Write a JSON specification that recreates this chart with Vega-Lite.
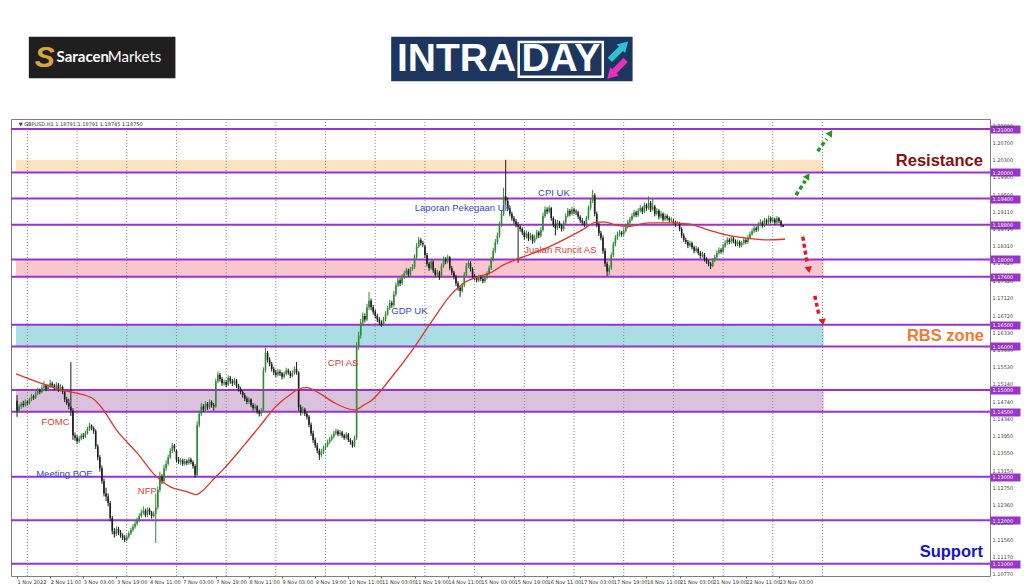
{
"$schema": "https://vega.github.io/schema/vega-lite/v6.json",
"width": 979, "height": 457,
"autosize": {"type": "none"},
"padding": {"left": 11, "top": 119, "right": 34, "bottom": 11},
"background": "white",
"config": {"view": {"stroke": "#7f7f7f", "strokeWidth": 1}},
"resolve": {"scale": {"color": "independent"}},
"datasets": {
"bars": [
{"i":0,"o":1.1475,"h":1.1488,"l":1.1438,"c":1.1452},{"i":1,"o":1.1452,"h":1.1467,"l":1.1447,"c":1.1462},{"i":2,"o":1.1462,"h":1.1472,"l":1.1456,"c":1.1468},{"i":3,"o":1.1468,"h":1.1475,"l":1.1460,"c":1.1465},{"i":4,"o":1.1465,"h":1.1478,"l":1.1461,"c":1.1472},
{"i":5,"o":1.1472,"h":1.1476,"l":1.1464,"c":1.1470},{"i":6,"o":1.1470,"h":1.1482,"l":1.1466,"c":1.1478},{"i":7,"o":1.1478,"h":1.1491,"l":1.1474,"c":1.1485},{"i":8,"o":1.1485,"h":1.1489,"l":1.1477,"c":1.1482},{"i":9,"o":1.1482,"h":1.1497,"l":1.1479,"c":1.1492},
{"i":10,"o":1.1492,"h":1.1505,"l":1.1488,"c":1.1498},{"i":11,"o":1.1498,"h":1.1503,"l":1.1490,"c":1.1495},{"i":12,"o":1.1495,"h":1.1512,"l":1.1492,"c":1.1505},{"i":13,"o":1.1505,"h":1.1520,"l":1.1500,"c":1.1510},{"i":14,"o":1.1510,"h":1.1514,"l":1.1497,"c":1.1502},
{"i":15,"o":1.1502,"h":1.1513,"l":1.1498,"c":1.1508},{"i":16,"o":1.1508,"h":1.1523,"l":1.1504,"c":1.1515},{"i":17,"o":1.1515,"h":1.1519,"l":1.1505,"c":1.1510},{"i":18,"o":1.1510,"h":1.1514,"l":1.1499,"c":1.1505},{"i":19,"o":1.1505,"h":1.1518,"l":1.1501,"c":1.1512},
{"i":20,"o":1.1512,"h":1.1516,"l":1.1495,"c":1.1500},{"i":21,"o":1.1500,"h":1.1513,"l":1.1496,"c":1.1507},{"i":22,"o":1.1507,"h":1.1510,"l":1.1490,"c":1.1495},{"i":23,"o":1.1495,"h":1.1499,"l":1.1472,"c":1.1478},{"i":24,"o":1.1478,"h":1.1484,"l":1.1465,"c":1.1470},
{"i":25,"o":1.1470,"h":1.1480,"l":1.1455,"c":1.1462},{"i":26,"o":1.1462,"h":1.1564,"l":1.1440,"c":1.1452},{"i":27,"o":1.1452,"h":1.1458,"l":1.1385,"c":1.1395},{"i":28,"o":1.1395,"h":1.1402,"l":1.1383,"c":1.1390},{"i":29,"o":1.1390,"h":1.1396,"l":1.1376,"c":1.1382},
{"i":30,"o":1.1382,"h":1.1394,"l":1.1378,"c":1.1388},{"i":31,"o":1.1388,"h":1.1400,"l":1.1384,"c":1.1395},{"i":32,"o":1.1395,"h":1.1401,"l":1.1387,"c":1.1392},{"i":33,"o":1.1392,"h":1.1406,"l":1.1389,"c":1.1400},{"i":34,"o":1.1400,"h":1.1415,"l":1.1397,"c":1.1410},
{"i":35,"o":1.1410,"h":1.1424,"l":1.1406,"c":1.1418},{"i":36,"o":1.1418,"h":1.1421,"l":1.1407,"c":1.1412},{"i":37,"o":1.1412,"h":1.1416,"l":1.1399,"c":1.1405},{"i":38,"o":1.1405,"h":1.1409,"l":1.1364,"c":1.1370},{"i":39,"o":1.1370,"h":1.1375,"l":1.1338,"c":1.1345},
{"i":40,"o":1.1345,"h":1.1350,"l":1.1312,"c":1.1320},{"i":41,"o":1.1320,"h":1.1326,"l":1.1284,"c":1.1290},{"i":42,"o":1.1290,"h":1.1296,"l":1.1255,"c":1.1262},{"i":43,"o":1.1262,"h":1.1275,"l":1.1244,"c":1.1255},{"i":44,"o":1.1255,"h":1.1262,"l":1.1232,"c":1.1240},
{"i":45,"o":1.1240,"h":1.1245,"l":1.1198,"c":1.1205},{"i":46,"o":1.1205,"h":1.1210,"l":1.1168,"c":1.1175},{"i":47,"o":1.1175,"h":1.1182,"l":1.1160,"c":1.1168},{"i":48,"o":1.1168,"h":1.1186,"l":1.1164,"c":1.1180},{"i":49,"o":1.1180,"h":1.1185,"l":1.1166,"c":1.1172},
{"i":50,"o":1.1172,"h":1.1178,"l":1.1160,"c":1.1165},{"i":51,"o":1.1165,"h":1.1170,"l":1.1155,"c":1.1160},{"i":52,"o":1.1160,"h":1.1166,"l":1.1150,"c":1.1155},{"i":53,"o":1.1155,"h":1.1168,"l":1.1152,"c":1.1162},{"i":54,"o":1.1162,"h":1.1175,"l":1.1158,"c":1.1170},
{"i":55,"o":1.1170,"h":1.1183,"l":1.1166,"c":1.1178},{"i":56,"o":1.1178,"h":1.1191,"l":1.1174,"c":1.1185},{"i":57,"o":1.1185,"h":1.1198,"l":1.1181,"c":1.1192},{"i":58,"o":1.1192,"h":1.1206,"l":1.1188,"c":1.1200},{"i":59,"o":1.1200,"h":1.1216,"l":1.1196,"c":1.1210},
{"i":60,"o":1.1210,"h":1.1225,"l":1.1206,"c":1.1218},{"i":61,"o":1.1218,"h":1.1232,"l":1.1213,"c":1.1222},{"i":62,"o":1.1222,"h":1.1227,"l":1.1207,"c":1.1212},{"i":63,"o":1.1212,"h":1.1230,"l":1.1208,"c":1.1225},{"i":64,"o":1.1225,"h":1.1229,"l":1.1212,"c":1.1218},
{"i":65,"o":1.1218,"h":1.1222,"l":1.1204,"c":1.1210},{"i":66,"o":1.1210,"h":1.1221,"l":1.1206,"c":1.1215},{"i":67,"o":1.1215,"h":1.1262,"l":1.1148,"c":1.1230},{"i":68,"o":1.1230,"h":1.1278,"l":1.1225,"c":1.1270},{"i":69,"o":1.1270,"h":1.1312,"l":1.1264,"c":1.1300},
{"i":70,"o":1.1300,"h":1.1306,"l":1.1283,"c":1.1290},{"i":71,"o":1.1290,"h":1.1328,"l":1.1286,"c":1.1320},{"i":72,"o":1.1320,"h":1.1338,"l":1.1314,"c":1.1330},{"i":73,"o":1.1330,"h":1.1351,"l":1.1326,"c":1.1345},{"i":74,"o":1.1345,"h":1.1366,"l":1.1341,"c":1.1360},
{"i":75,"o":1.1360,"h":1.1378,"l":1.1355,"c":1.1372},{"i":76,"o":1.1372,"h":1.1376,"l":1.1358,"c":1.1365},{"i":77,"o":1.1360,"h":1.1363,"l":1.1333,"c":1.1340},{"i":78,"o":1.1340,"h":1.1346,"l":1.1330,"c":1.1335},{"i":79,"o":1.1335,"h":1.1343,"l":1.1328,"c":1.1338},
{"i":80,"o":1.1338,"h":1.1342,"l":1.1325,"c":1.1330},{"i":81,"o":1.1330,"h":1.1341,"l":1.1326,"c":1.1336},{"i":82,"o":1.1336,"h":1.1340,"l":1.1327,"c":1.1332},{"i":83,"o":1.1332,"h":1.1345,"l":1.1328,"c":1.1340},{"i":84,"o":1.1340,"h":1.1344,"l":1.1329,"c":1.1334},
{"i":85,"o":1.1334,"h":1.1338,"l":1.1319,"c":1.1325},{"i":86,"o":1.1325,"h":1.1329,"l":1.1298,"c":1.1305},{"i":87,"o":1.1305,"h":1.1428,"l":1.1302,"c":1.1420},{"i":88,"o":1.1420,"h":1.1452,"l":1.1414,"c":1.1445},{"i":89,"o":1.1445,"h":1.1470,"l":1.1440,"c":1.1462},
{"i":90,"o":1.1462,"h":1.1467,"l":1.1449,"c":1.1455},{"i":91,"o":1.1455,"h":1.1474,"l":1.1451,"c":1.1468},{"i":92,"o":1.1468,"h":1.1472,"l":1.1454,"c":1.1460},{"i":93,"o":1.1460,"h":1.1478,"l":1.1456,"c":1.1472},{"i":94,"o":1.1472,"h":1.1476,"l":1.1459,"c":1.1465},
{"i":95,"o":1.1465,"h":1.1470,"l":1.1452,"c":1.1462},{"i":96,"o":1.1462,"h":1.1526,"l":1.1458,"c":1.1520},{"i":97,"o":1.1520,"h":1.1542,"l":1.1515,"c":1.1535},{"i":98,"o":1.1535,"h":1.1539,"l":1.1519,"c":1.1525},{"i":99,"o":1.1525,"h":1.1530,"l":1.1509,"c":1.1515},
{"i":100,"o":1.1515,"h":1.1524,"l":1.1510,"c":1.1518},{"i":101,"o":1.1518,"h":1.1522,"l":1.1506,"c":1.1512},{"i":102,"o":1.1512,"h":1.1534,"l":1.1509,"c":1.1528},{"i":103,"o":1.1528,"h":1.1532,"l":1.1514,"c":1.1520},{"i":104,"o":1.1520,"h":1.1525,"l":1.1509,"c":1.1515},
{"i":105,"o":1.1515,"h":1.1527,"l":1.1511,"c":1.1522},{"i":106,"o":1.1522,"h":1.1525,"l":1.1504,"c":1.1510},{"i":107,"o":1.1510,"h":1.1514,"l":1.1496,"c":1.1502},{"i":108,"o":1.1502,"h":1.1507,"l":1.1490,"c":1.1495},{"i":109,"o":1.1495,"h":1.1499,"l":1.1482,"c":1.1488},
{"i":110,"o":1.1488,"h":1.1493,"l":1.1474,"c":1.1480},{"i":111,"o":1.1480,"h":1.1485,"l":1.1467,"c":1.1472},{"i":112,"o":1.1472,"h":1.1483,"l":1.1468,"c":1.1478},{"i":113,"o":1.1478,"h":1.1481,"l":1.1460,"c":1.1465},{"i":114,"o":1.1465,"h":1.1470,"l":1.1452,"c":1.1458},
{"i":115,"o":1.1458,"h":1.1468,"l":1.1454,"c":1.1462},{"i":116,"o":1.1462,"h":1.1465,"l":1.1445,"c":1.1450},{"i":117,"o":1.1450,"h":1.1455,"l":1.1439,"c":1.1445},{"i":118,"o":1.1445,"h":1.1458,"l":1.1440,"c":1.1452},{"i":119,"o":1.1452,"h":1.1552,"l":1.1449,"c":1.1545},
{"i":120,"o":1.1545,"h":1.1597,"l":1.1540,"c":1.1585},{"i":121,"o":1.1585,"h":1.1590,"l":1.1563,"c":1.1570},{"i":122,"o":1.1570,"h":1.1575,"l":1.1554,"c":1.1560},{"i":123,"o":1.1560,"h":1.1564,"l":1.1542,"c":1.1548},{"i":124,"o":1.1548,"h":1.1553,"l":1.1534,"c":1.1540},
{"i":125,"o":1.1540,"h":1.1546,"l":1.1529,"c":1.1535},{"i":126,"o":1.1535,"h":1.1548,"l":1.1531,"c":1.1542},{"i":127,"o":1.1542,"h":1.1547,"l":1.1532,"c":1.1538},{"i":128,"o":1.1538,"h":1.1541,"l":1.1524,"c":1.1530},{"i":129,"o":1.1530,"h":1.1542,"l":1.1526,"c":1.1536},
{"i":130,"o":1.1536,"h":1.1551,"l":1.1533,"c":1.1545},{"i":131,"o":1.1545,"h":1.1549,"l":1.1535,"c":1.1540},{"i":132,"o":1.1540,"h":1.1544,"l":1.1527,"c":1.1532},{"i":133,"o":1.1532,"h":1.1545,"l":1.1529,"c":1.1538},{"i":134,"o":1.1538,"h":1.1554,"l":1.1535,"c":1.1548},
{"i":135,"o":1.1548,"h":1.1564,"l":1.1535,"c":1.1540},{"i":136,"o":1.1540,"h":1.1543,"l":1.1452,"c":1.1460},{"i":137,"o":1.1460,"h":1.1466,"l":1.1441,"c":1.1448},{"i":138,"o":1.1448,"h":1.1462,"l":1.1444,"c":1.1455},{"i":139,"o":1.1455,"h":1.1459,"l":1.1440,"c":1.1445},
{"i":140,"o":1.1445,"h":1.1450,"l":1.1432,"c":1.1438},{"i":141,"o":1.1438,"h":1.1442,"l":1.1414,"c":1.1420},{"i":142,"o":1.1420,"h":1.1425,"l":1.1394,"c":1.1400},{"i":143,"o":1.1400,"h":1.1406,"l":1.1378,"c":1.1385},{"i":144,"o":1.1385,"h":1.1390,"l":1.1366,"c":1.1372},
{"i":145,"o":1.1372,"h":1.1378,"l":1.1354,"c":1.1360},{"i":146,"o":1.1360,"h":1.1365,"l":1.1339,"c":1.1350},{"i":147,"o":1.1350,"h":1.1364,"l":1.1346,"c":1.1358},{"i":148,"o":1.1358,"h":1.1372,"l":1.1353,"c":1.1366},{"i":149,"o":1.1366,"h":1.1378,"l":1.1362,"c":1.1372},
{"i":150,"o":1.1372,"h":1.1386,"l":1.1368,"c":1.1380},{"i":151,"o":1.1380,"h":1.1392,"l":1.1376,"c":1.1386},{"i":152,"o":1.1386,"h":1.1398,"l":1.1382,"c":1.1392},{"i":153,"o":1.1392,"h":1.1406,"l":1.1388,"c":1.1400},{"i":154,"o":1.1400,"h":1.1411,"l":1.1396,"c":1.1405},
{"i":155,"o":1.1405,"h":1.1409,"l":1.1393,"c":1.1398},{"i":156,"o":1.1398,"h":1.1408,"l":1.1394,"c":1.1402},{"i":157,"o":1.1402,"h":1.1406,"l":1.1390,"c":1.1395},{"i":158,"o":1.1395,"h":1.1399,"l":1.1385,"c":1.1390},{"i":159,"o":1.1390,"h":1.1403,"l":1.1386,"c":1.1398},
{"i":160,"o":1.1398,"h":1.1401,"l":1.1380,"c":1.1385},{"i":161,"o":1.1385,"h":1.1389,"l":1.1374,"c":1.1380},{"i":162,"o":1.1380,"h":1.1384,"l":1.1367,"c":1.1372},{"i":163,"o":1.1372,"h":1.1395,"l":1.1368,"c":1.1390},{"i":164,"o":1.1390,"h":1.1610,"l":1.1385,"c":1.1600},
{"i":165,"o":1.1600,"h":1.1634,"l":1.1592,"c":1.1625},{"i":166,"o":1.1625,"h":1.1663,"l":1.1618,"c":1.1655},{"i":167,"o":1.1655,"h":1.1678,"l":1.1648,"c":1.1670},{"i":168,"o":1.1670,"h":1.1676,"l":1.1655,"c":1.1662},{"i":169,"o":1.1662,"h":1.1698,"l":1.1658,"c":1.1690},
{"i":170,"o":1.1690,"h":1.1725,"l":1.1684,"c":1.1705},{"i":171,"o":1.1705,"h":1.1710,"l":1.1683,"c":1.1690},{"i":172,"o":1.1690,"h":1.1695,"l":1.1673,"c":1.1680},{"i":173,"o":1.1680,"h":1.1685,"l":1.1664,"c":1.1670},{"i":174,"o":1.1670,"h":1.1675,"l":1.1656,"c":1.1662},
{"i":175,"o":1.1662,"h":1.1667,"l":1.1649,"c":1.1655},{"i":176,"o":1.1655,"h":1.1660,"l":1.1645,"c":1.1650},{"i":177,"o":1.1650,"h":1.1668,"l":1.1647,"c":1.1662},{"i":178,"o":1.1662,"h":1.1681,"l":1.1658,"c":1.1675},{"i":179,"o":1.1675,"h":1.1694,"l":1.1671,"c":1.1688},
{"i":180,"o":1.1688,"h":1.1707,"l":1.1684,"c":1.1700},{"i":181,"o":1.1700,"h":1.1705,"l":1.1689,"c":1.1695},{"i":182,"o":1.1695,"h":1.1727,"l":1.1690,"c":1.1720},{"i":183,"o":1.1720,"h":1.1747,"l":1.1715,"c":1.1740},{"i":184,"o":1.1740,"h":1.1758,"l":1.1736,"c":1.1752},
{"i":185,"o":1.1752,"h":1.1757,"l":1.1739,"c":1.1745},{"i":186,"o":1.1745,"h":1.1766,"l":1.1741,"c":1.1760},{"i":187,"o":1.1760,"h":1.1774,"l":1.1755,"c":1.1768},{"i":188,"o":1.1768,"h":1.1781,"l":1.1764,"c":1.1775},{"i":189,"o":1.1775,"h":1.1779,"l":1.1760,"c":1.1765},
{"i":190,"o":1.1765,"h":1.1783,"l":1.1761,"c":1.1778},{"i":191,"o":1.1778,"h":1.1789,"l":1.1774,"c":1.1782},{"i":192,"o":1.1782,"h":1.1812,"l":1.1778,"c":1.1805},{"i":193,"o":1.1805,"h":1.1838,"l":1.1800,"c":1.1830},{"i":194,"o":1.1830,"h":1.1852,"l":1.1826,"c":1.1845},
{"i":195,"o":1.1845,"h":1.1849,"l":1.1832,"c":1.1838},{"i":196,"o":1.1838,"h":1.1843,"l":1.1829,"c":1.1835},{"i":197,"o":1.1830,"h":1.1834,"l":1.1804,"c":1.1810},{"i":198,"o":1.1810,"h":1.1815,"l":1.1784,"c":1.1790},{"i":199,"o":1.1790,"h":1.1795,"l":1.1774,"c":1.1780},
{"i":200,"o":1.1780,"h":1.1800,"l":1.1776,"c":1.1795},{"i":201,"o":1.1795,"h":1.1798,"l":1.1769,"c":1.1775},{"i":202,"o":1.1775,"h":1.1780,"l":1.1759,"c":1.1765},{"i":203,"o":1.1765,"h":1.1776,"l":1.1760,"c":1.1770},{"i":204,"o":1.1770,"h":1.1774,"l":1.1753,"c":1.1760},
{"i":205,"o":1.1760,"h":1.1791,"l":1.1757,"c":1.1785},{"i":206,"o":1.1785,"h":1.1807,"l":1.1781,"c":1.1800},{"i":207,"o":1.1800,"h":1.1805,"l":1.1789,"c":1.1795},{"i":208,"o":1.1795,"h":1.1811,"l":1.1791,"c":1.1805},{"i":209,"o":1.1805,"h":1.1808,"l":1.1775,"c":1.1780},
{"i":210,"o":1.1780,"h":1.1785,"l":1.1764,"c":1.1770},{"i":211,"o":1.1770,"h":1.1774,"l":1.1754,"c":1.1760},{"i":212,"o":1.1760,"h":1.1765,"l":1.1739,"c":1.1745},{"i":213,"o":1.1745,"h":1.1750,"l":1.1728,"c":1.1735},{"i":214,"o":1.1735,"h":1.1740,"l":1.1714,"c":1.1728},
{"i":215,"o":1.1728,"h":1.1746,"l":1.1724,"c":1.1740},{"i":216,"o":1.1740,"h":1.1771,"l":1.1736,"c":1.1765},{"i":217,"o":1.1765,"h":1.1792,"l":1.1761,"c":1.1785},{"i":218,"o":1.1785,"h":1.1799,"l":1.1780,"c":1.1792},{"i":219,"o":1.1792,"h":1.1796,"l":1.1772,"c":1.1778},
{"i":220,"o":1.1778,"h":1.1782,"l":1.1757,"c":1.1762},{"i":221,"o":1.1762,"h":1.1767,"l":1.1752,"c":1.1758},{"i":222,"o":1.1758,"h":1.1762,"l":1.1747,"c":1.1752},{"i":223,"o":1.1752,"h":1.1765,"l":1.1748,"c":1.1760},{"i":224,"o":1.1760,"h":1.1764,"l":1.1750,"c":1.1755},
{"i":225,"o":1.1755,"h":1.1759,"l":1.1745,"c":1.1750},{"i":226,"o":1.1750,"h":1.1763,"l":1.1746,"c":1.1758},{"i":227,"o":1.1758,"h":1.1773,"l":1.1754,"c":1.1768},{"i":228,"o":1.1768,"h":1.1786,"l":1.1764,"c":1.1780},{"i":229,"o":1.1780,"h":1.1806,"l":1.1776,"c":1.1800},
{"i":230,"o":1.1800,"h":1.1827,"l":1.1795,"c":1.1820},{"i":231,"o":1.1820,"h":1.1847,"l":1.1815,"c":1.1840},{"i":232,"o":1.1840,"h":1.1862,"l":1.1835,"c":1.1855},{"i":233,"o":1.1855,"h":1.1887,"l":1.1850,"c":1.1880},{"i":234,"o":1.1880,"h":1.1913,"l":1.1875,"c":1.1905},
{"i":235,"o":1.1905,"h":1.1965,"l":1.1900,"c":1.1945},{"i":236,"o":1.1945,"h":1.2029,"l":1.1925,"c":1.1935},{"i":237,"o":1.1935,"h":1.1942,"l":1.1911,"c":1.1918},{"i":238,"o":1.1918,"h":1.1923,"l":1.1899,"c":1.1905},{"i":239,"o":1.1905,"h":1.1910,"l":1.1889,"c":1.1895},
{"i":240,"o":1.1895,"h":1.1900,"l":1.1882,"c":1.1888},{"i":241,"o":1.1888,"h":1.1893,"l":1.1874,"c":1.1880},{"i":242,"o":1.1880,"h":1.1886,"l":1.1792,"c":1.1875},{"i":243,"o":1.1875,"h":1.1880,"l":1.1864,"c":1.1870},{"i":244,"o":1.1870,"h":1.1874,"l":1.1856,"c":1.1862},
{"i":245,"o":1.1862,"h":1.1866,"l":1.1846,"c":1.1852},{"i":246,"o":1.1852,"h":1.1866,"l":1.1848,"c":1.1860},{"i":247,"o":1.1860,"h":1.1864,"l":1.1842,"c":1.1848},{"i":248,"o":1.1848,"h":1.1861,"l":1.1844,"c":1.1855},{"i":249,"o":1.1855,"h":1.1858,"l":1.1836,"c":1.1842},
{"i":250,"o":1.1842,"h":1.1856,"l":1.1838,"c":1.1850},{"i":251,"o":1.1850,"h":1.1868,"l":1.1846,"c":1.1862},{"i":252,"o":1.1862,"h":1.1866,"l":1.1849,"c":1.1855},{"i":253,"o":1.1855,"h":1.1874,"l":1.1851,"c":1.1868},{"i":254,"o":1.1868,"h":1.1908,"l":1.1864,"c":1.1900},
{"i":255,"o":1.1900,"h":1.1922,"l":1.1895,"c":1.1915},{"i":256,"o":1.1915,"h":1.1920,"l":1.1904,"c":1.1910},{"i":257,"o":1.1910,"h":1.1924,"l":1.1906,"c":1.1918},{"i":258,"o":1.1918,"h":1.1921,"l":1.1889,"c":1.1895},{"i":259,"o":1.1895,"h":1.1899,"l":1.1874,"c":1.1880},
{"i":260,"o":1.1880,"h":1.1892,"l":1.1855,"c":1.1872},{"i":261,"o":1.1872,"h":1.1891,"l":1.1868,"c":1.1885},{"i":262,"o":1.1885,"h":1.1889,"l":1.1872,"c":1.1878},{"i":263,"o":1.1878,"h":1.1882,"l":1.1864,"c":1.1870},{"i":264,"o":1.1870,"h":1.1890,"l":1.1866,"c":1.1885},
{"i":265,"o":1.1885,"h":1.1906,"l":1.1881,"c":1.1900},{"i":266,"o":1.1900,"h":1.1918,"l":1.1896,"c":1.1912},{"i":267,"o":1.1912,"h":1.1916,"l":1.1899,"c":1.1905},{"i":268,"o":1.1905,"h":1.1921,"l":1.1901,"c":1.1915},{"i":269,"o":1.1915,"h":1.1919,"l":1.1904,"c":1.1910},
{"i":270,"o":1.1910,"h":1.1915,"l":1.1902,"c":1.1908},{"i":271,"o":1.1908,"h":1.1912,"l":1.1893,"c":1.1898},{"i":272,"o":1.1898,"h":1.1902,"l":1.1884,"c":1.1890},{"i":273,"o":1.1890,"h":1.1895,"l":1.1879,"c":1.1885},{"i":274,"o":1.1885,"h":1.1889,"l":1.1874,"c":1.1880},
{"i":275,"o":1.1880,"h":1.1900,"l":1.1876,"c":1.1895},{"i":276,"o":1.1895,"h":1.1924,"l":1.1891,"c":1.1918},{"i":277,"o":1.1918,"h":1.1941,"l":1.1913,"c":1.1935},{"i":278,"o":1.1935,"h":1.1960,"l":1.1930,"c":1.1948},{"i":279,"o":1.1948,"h":1.1952,"l":1.1899,"c":1.1905},
{"i":280,"o":1.1905,"h":1.1910,"l":1.1874,"c":1.1880},{"i":281,"o":1.1880,"h":1.1885,"l":1.1854,"c":1.1860},{"i":282,"o":1.1860,"h":1.1866,"l":1.1844,"c":1.1850},{"i":283,"o":1.1850,"h":1.1855,"l":1.1813,"c":1.1820},{"i":284,"o":1.1820,"h":1.1826,"l":1.1783,"c":1.1790},
{"i":285,"o":1.1790,"h":1.1795,"l":1.1762,"c":1.1772},{"i":286,"o":1.1772,"h":1.1787,"l":1.1764,"c":1.1780},{"i":287,"o":1.1780,"h":1.1816,"l":1.1776,"c":1.1810},{"i":288,"o":1.1810,"h":1.1841,"l":1.1805,"c":1.1835},{"i":289,"o":1.1835,"h":1.1856,"l":1.1830,"c":1.1850},
{"i":290,"o":1.1850,"h":1.1864,"l":1.1845,"c":1.1858},{"i":291,"o":1.1858,"h":1.1868,"l":1.1853,"c":1.1862},{"i":292,"o":1.1862,"h":1.1866,"l":1.1852,"c":1.1858},{"i":293,"o":1.1858,"h":1.1872,"l":1.1854,"c":1.1866},{"i":294,"o":1.1866,"h":1.1881,"l":1.1862,"c":1.1875},
{"i":295,"o":1.1875,"h":1.1891,"l":1.1871,"c":1.1885},{"i":296,"o":1.1885,"h":1.1898,"l":1.1881,"c":1.1892},{"i":297,"o":1.1892,"h":1.1906,"l":1.1888,"c":1.1900},{"i":298,"o":1.1900,"h":1.1914,"l":1.1896,"c":1.1908},{"i":299,"o":1.1908,"h":1.1912,"l":1.1897,"c":1.1902},
{"i":300,"o":1.1902,"h":1.1918,"l":1.1898,"c":1.1912},{"i":301,"o":1.1912,"h":1.1925,"l":1.1908,"c":1.1918},{"i":302,"o":1.1918,"h":1.1922,"l":1.1904,"c":1.1910},{"i":303,"o":1.1910,"h":1.1931,"l":1.1906,"c":1.1925},{"i":304,"o":1.1925,"h":1.1929,"l":1.1912,"c":1.1918},
{"i":305,"o":1.1918,"h":1.1945,"l":1.1914,"c":1.1930},{"i":306,"o":1.1930,"h":1.1934,"l":1.1909,"c":1.1915},{"i":307,"o":1.1915,"h":1.1940,"l":1.1911,"c":1.1922},{"i":308,"o":1.1922,"h":1.1926,"l":1.1899,"c":1.1905},{"i":309,"o":1.1905,"h":1.1918,"l":1.1901,"c":1.1912},
{"i":310,"o":1.1912,"h":1.1916,"l":1.1892,"c":1.1898},{"i":311,"o":1.1898,"h":1.1911,"l":1.1894,"c":1.1905},{"i":312,"o":1.1905,"h":1.1908,"l":1.1887,"c":1.1892},{"i":313,"o":1.1892,"h":1.1906,"l":1.1888,"c":1.1900},{"i":314,"o":1.1900,"h":1.1904,"l":1.1890,"c":1.1895},
{"i":315,"o":1.1895,"h":1.1899,"l":1.1885,"c":1.1890},{"i":316,"o":1.1890,"h":1.1897,"l":1.1886,"c":1.1892},{"i":317,"o":1.1888,"h":1.1893,"l":1.1880,"c":1.1885},{"i":318,"o":1.1885,"h":1.1889,"l":1.1875,"c":1.1880},{"i":319,"o":1.1880,"h":1.1888,"l":1.1876,"c":1.1882},
{"i":320,"o":1.1882,"h":1.1886,"l":1.1865,"c":1.1870},{"i":321,"o":1.1870,"h":1.1874,"l":1.1849,"c":1.1855},{"i":322,"o":1.1855,"h":1.1860,"l":1.1840,"c":1.1845},{"i":323,"o":1.1845,"h":1.1850,"l":1.1835,"c":1.1840},{"i":324,"o":1.1840,"h":1.1845,"l":1.1826,"c":1.1832},
{"i":325,"o":1.1832,"h":1.1843,"l":1.1828,"c":1.1838},{"i":326,"o":1.1838,"h":1.1841,"l":1.1823,"c":1.1828},{"i":327,"o":1.1828,"h":1.1832,"l":1.1814,"c":1.1820},{"i":328,"o":1.1820,"h":1.1831,"l":1.1816,"c":1.1825},{"i":329,"o":1.1825,"h":1.1828,"l":1.1810,"c":1.1815},
{"i":330,"o":1.1815,"h":1.1820,"l":1.1802,"c":1.1808},{"i":331,"o":1.1808,"h":1.1818,"l":1.1804,"c":1.1812},{"i":332,"o":1.1812,"h":1.1815,"l":1.1795,"c":1.1800},{"i":333,"o":1.1800,"h":1.1805,"l":1.1790,"c":1.1795},{"i":334,"o":1.1795,"h":1.1799,"l":1.1784,"c":1.1790},
{"i":335,"o":1.1790,"h":1.1794,"l":1.1778,"c":1.1785},{"i":336,"o":1.1785,"h":1.1803,"l":1.1782,"c":1.1798},{"i":337,"o":1.1798,"h":1.1811,"l":1.1794,"c":1.1805},{"i":338,"o":1.1805,"h":1.1821,"l":1.1801,"c":1.1815},{"i":339,"o":1.1815,"h":1.1828,"l":1.1811,"c":1.1822},
{"i":340,"o":1.1822,"h":1.1826,"l":1.1813,"c":1.1818},{"i":341,"o":1.1818,"h":1.1836,"l":1.1814,"c":1.1830},{"i":342,"o":1.1830,"h":1.1844,"l":1.1826,"c":1.1838},{"i":343,"o":1.1838,"h":1.1851,"l":1.1834,"c":1.1845},{"i":344,"o":1.1845,"h":1.1849,"l":1.1835,"c":1.1840},
{"i":345,"o":1.1840,"h":1.1854,"l":1.1836,"c":1.1848},{"i":346,"o":1.1848,"h":1.1852,"l":1.1837,"c":1.1842},{"i":347,"o":1.1842,"h":1.1846,"l":1.1830,"c":1.1835},{"i":348,"o":1.1835,"h":1.1846,"l":1.1831,"c":1.1840},{"i":349,"o":1.1840,"h":1.1844,"l":1.1827,"c":1.1832},
{"i":350,"o":1.1832,"h":1.1843,"l":1.1828,"c":1.1838},{"i":351,"o":1.1838,"h":1.1851,"l":1.1834,"c":1.1845},{"i":352,"o":1.1845,"h":1.1849,"l":1.1835,"c":1.1840},{"i":353,"o":1.1840,"h":1.1856,"l":1.1836,"c":1.1850},{"i":354,"o":1.1850,"h":1.1864,"l":1.1846,"c":1.1858},
{"i":355,"o":1.1858,"h":1.1871,"l":1.1854,"c":1.1865},{"i":356,"o":1.1865,"h":1.1878,"l":1.1861,"c":1.1872},{"i":357,"o":1.1872,"h":1.1876,"l":1.1863,"c":1.1868},{"i":358,"o":1.1868,"h":1.1886,"l":1.1864,"c":1.1880},{"i":359,"o":1.1880,"h":1.1892,"l":1.1876,"c":1.1885},
{"i":360,"o":1.1885,"h":1.1889,"l":1.1873,"c":1.1878},{"i":361,"o":1.1878,"h":1.1896,"l":1.1874,"c":1.1890},{"i":362,"o":1.1890,"h":1.1894,"l":1.1880,"c":1.1885},{"i":363,"o":1.1885,"h":1.1901,"l":1.1881,"c":1.1895},{"i":364,"o":1.1895,"h":1.1899,"l":1.1883,"c":1.1888},
{"i":365,"o":1.1888,"h":1.1898,"l":1.1884,"c":1.1892},{"i":366,"o":1.1892,"h":1.1896,"l":1.1880,"c":1.1885},{"i":367,"o":1.1885,"h":1.1900,"l":1.1881,"c":1.1895},{"i":368,"o":1.1895,"h":1.1898,"l":1.1883,"c":1.1888},{"i":369,"o":1.1888,"h":1.1891,"l":1.1874,"c":1.1879},
{"i":370,"o":1.18791,"h":1.18791,"l":1.18745,"c":1.1875}
],
"ma": [
{"i":-0.5,"p":1.1537},{"i":10,"p":1.1518},{"i":21.5,"p":1.15},{"i":36,"p":1.1482},{"i":40.6,"p":1.1461},{"i":48,"p":1.1408},{"i":58,"p":1.1355},{"i":67.4,"p":1.13},{"i":74,"p":1.1277},{"i":82,"p":1.1266},{"i":86.5,"p":1.1259},{"i":90,"p":1.127},{"i":94.6,"p":1.1293},{"i":99.4,"p":1.1316},{"i":109,"p":1.1369},{"i":117,"p":1.1415},{"i":124.8,"p":1.1461},{"i":133,"p":1.1493},{"i":136,"p":1.1502},{"i":140,"p":1.1505},{"i":145.8,"p":1.1493},{"i":153.4,"p":1.147},{"i":163,"p":1.1454},{"i":167.8,"p":1.1466},{"i":171,"p":1.1475},{"i":180.7,"p":1.1528},{"i":190.2,"p":1.1587},{"i":199.8,"p":1.1654},{"i":209.4,"p":1.1718},{"i":216.5,"p":1.1748},{"i":223.7,"p":1.1762},{"i":228.5,"p":1.1769},{"i":234.7,"p":1.1787},{"i":242.8,"p":1.1803},{"i":257,"p":1.1829},{"i":273,"p":1.1868},{"i":280,"p":1.1886},{"i":284.4,"p":1.1886},{"i":289,"p":1.1879},{"i":295.4,"p":1.1876},{"i":305,"p":1.1884},{"i":314.5,"p":1.1884},{"i":324,"p":1.1882},{"i":333.7,"p":1.1868},{"i":343,"p":1.1856},{"i":352.8,"p":1.1849},{"i":362.3,"p":1.1845},{"i":371,"p":1.1847}
],
"levels": [{"p":1.21},{"p":1.2},{"p":1.194},{"p":1.188},{"p":1.18},{"p":1.176},{"p":1.165},{"p":1.16},{"p":1.15},{"p":1.145},{"p":1.13},{"p":1.12},{"p":1.11}],
"zones": [{"z":"resistance","lo":1.2,"hi":1.2029},{"z":"pink","lo":1.176,"hi":1.18},{"z":"rbs","lo":1.16,"hi":1.165},{"z":"mauve","lo":1.145,"hi":1.15}],
"days": [{"i":5},{"i":29},{"i":53},{"i":77},{"i":101},{"i":125},{"i":149},{"i":173},{"i":197},{"i":221},{"i":245},{"i":269},{"i":293},{"i":317},{"i":341},{"i":365},{"i":389}],
"notes": [
{"t":"FOMC","i":18.6,"p":1.1426,"k":"r"},{"t":"Meeting BOE","i":22.9,"p":1.1307,"k":"b"},{"t":"NFP","i":62.9,"p":1.1268,"k":"r"},{"t":"CPI AS","i":157.5,"p":1.1562,"k":"r"},{"t":"GDP UK","i":189.5,"p":1.1682,"k":"b"},{"t":"Laporan Pekegaan UK","i":215.3,"p":1.1918,"k":"b"},{"t":"CPI UK","i":259.3,"p":1.1953,"k":"b"},{"t":"Jualan Runcit AS","i":262.4,"p":1.1822,"k":"r"}
],
"big": [{"t":"Resistance","i":466.5,"p":1.2026,"k":"res"},{"t":"RBS zone","i":467,"p":1.1624,"k":"rbs"},{"t":"Support","i":466.5,"p":1.1128,"k":"sup"}],
"arrows": [
{"x":376.2,"y":1.1948,"x2":380.7,"y2":1.1981,"hx":381.9,"hy":1.1992,"k":"up"},
{"x":386.7,"y":1.2049,"x2":391.0,"y2":1.2077,"hx":392.9,"hy":1.2091,"k":"up"},
{"x":379.5,"y":1.1852,"x2":381.5,"y2":1.1794,"hx":382.4,"hy":1.1776,"k":"down"},
{"x":385.3,"y":1.1716,"x2":387.2,"y2":1.1675,"hx":389.1,"hy":1.1656,"k":"down"}
]
},
"layer": [
{"data": {"name": "zones"}, "mark": {"type": "rect"},
 "encoding": {"x": {"datum": -0.5, "type": "quantitative"}, "x2": {"datum": 389.6},
  "y": {"field": "lo", "type": "quantitative"}, "y2": {"field": "hi"},
  "color": {"field": "z", "type": "nominal", "legend": null, "scale": {"domain": ["resistance","pink","rbs","mauve"], "range": ["#fde2c4","#f9c6d0","#aadde4","#dbc2dc"]}}}},
{"data": {"name": "days"}, "mark": {"type": "rule", "color": "#888888", "strokeWidth": 1, "strokeDash": [1, 2]},
 "encoding": {"x": {"field": "i", "type": "quantitative"}}},
{"data": {"name": "levels"}, "mark": {"type": "rule", "color": "#9933cc", "strokeWidth": 2},
 "encoding": {"y": {"field": "p", "type": "quantitative"}}},
{"data": {"name": "bars"}, "mark": {"type": "rule", "strokeWidth": 1},
 "encoding": {
  "x": {"field": "i", "type": "quantitative", "scale": {"domain": [-0.5, 467.5], "nice": false, "zero": false},
   "axis": {"values": [0,16,32,48,64,80,96,112,128,144,160,176,192,208,224,240,256,272,288,304,320,336,352,368], "tickCount": 200,
    "labelExpr": "['1 Nov 2022','2 Nov 11:00','3 Nov 03:00','3 Nov 19:00','4 Nov 11:00','7 Nov 03:00','7 Nov 19:00','8 Nov 11:00','9 Nov 03:00','9 Nov 19:00','10 Nov 11:00','11 Nov 03:00','11 Nov 19:00','14 Nov 11:00','15 Nov 03:00','15 Nov 19:00','16 Nov 11:00','17 Nov 03:00','17 Nov 19:00','18 Nov 11:00','21 Nov 03:00','21 Nov 19:00','22 Nov 11:00','23 Nov 03:00'][round(datum.value/16)]",
    "title": null, "grid": false, "domain": false, "tickSize": 2, "tickColor": "#666666", "labelAlign": "left", "labelFontSize": 5, "labelFont": "DejaVu Sans", "labelColor": "#333333", "labelPadding": 1, "labelOverlap": false, "labelFlush": false, "labelBound": false}},
  "y": {"field": "l", "type": "quantitative", "scale": {"domain": [1.1072, 1.2123], "nice": false, "zero": false},
   "axis": {"orient": "right", "title": null, "grid": false, "domain": false, "format": ".5f", "tickCount": 200,
    "values": [1.1077,1.1117,1.1156,1.1196,1.1236,1.1275,1.1315,1.1355,1.1395,1.1434,1.1474,1.1514,1.1553,1.1593,1.1633,1.1672,1.1712,1.1752,1.1792,1.1831,1.1871,1.1911,1.195,1.199,1.203,1.207,1.2109,1.21,1.2,1.194,1.188,1.18,1.176,1.165,1.16,1.15,1.145,1.13,1.12,1.11],
    "labelFontSize": 5, "labelFont": "DejaVu Sans", "labelOverlap": false, "labelBound": false, "labelFlush": false,
    "tickSize": 30, "labelPadding": -28,
    "tickColor": {"condition": {"test": "indexof([1.21,1.2,1.194,1.188,1.18,1.176,1.165,1.16,1.15,1.145,1.13,1.12,1.11], datum.value) >= 0", "value": "#9933cc"}, "value": "rgba(0,0,0,0)"},
    "tickWidth": {"condition": {"test": "indexof([1.21,1.2,1.194,1.188,1.18,1.176,1.165,1.16,1.15,1.145,1.13,1.12,1.11], datum.value) >= 0", "value": 8}, "value": 1},
    "labelColor": {"condition": {"test": "indexof([1.21,1.2,1.194,1.188,1.18,1.176,1.165,1.16,1.15,1.145,1.13,1.12,1.11], datum.value) >= 0", "value": "#ffffff"}, "value": "#444444"}}},
  "y2": {"field": "h"},
  "color": {"condition": {"test": "datum.c > datum.o", "value": "#2f8a34"}, "value": "#1c1c1c"}}},
{"data": {"name": "bars"}, "mark": {"type": "bar", "size": 1.6},
 "encoding": {"x": {"field": "i", "type": "quantitative"}, "y": {"field": "o", "type": "quantitative"}, "y2": {"field": "c"},
  "color": {"condition": {"test": "datum.c > datum.o", "value": "#2f8a34"}, "value": "#1c1c1c"}}},
{"data": {"name": "ma"}, "mark": {"type": "line", "color": "#e3342a", "strokeWidth": 1.3, "interpolate": "monotone"},
 "encoding": {"x": {"field": "i", "type": "quantitative"}, "y": {"field": "p", "type": "quantitative"}}},
{"data": {"name": "notes"}, "mark": {"type": "text", "font": "Liberation Sans", "fontSize": 9.5, "align": "center", "baseline": "middle"},
 "encoding": {"x": {"field": "i", "type": "quantitative"}, "y": {"field": "p", "type": "quantitative"}, "text": {"field": "t"},
  "color": {"field": "k", "type": "nominal", "legend": null, "scale": {"domain": ["r","b"], "range": ["#e23b36","#3448c8"]}}}},
{"data": {"name": "big"}, "mark": {"type": "text", "font": "Liberation Sans", "fontWeight": "bold", "fontSize": 16.5, "align": "right", "baseline": "middle"},
 "encoding": {"x": {"field": "i", "type": "quantitative"}, "y": {"field": "p", "type": "quantitative"}, "text": {"field": "t"},
  "color": {"field": "k", "type": "nominal", "legend": null, "scale": {"domain": ["res","rbs","sup"], "range": ["#8b0e0e","#f47a2f","#1414cc"]}}}},
{"data": {"name": "arrows"}, "mark": {"type": "rule", "strokeWidth": 3.5, "strokeDash": [4, 3]},
 "encoding": {"x": {"field": "x", "type": "quantitative"}, "y": {"field": "y", "type": "quantitative"}, "x2": {"field": "x2"}, "y2": {"field": "y2"},
  "color": {"field": "k", "type": "nominal", "legend": null, "scale": {"domain": ["up","down"], "range": ["#1f9a1f","#e8161b"]}}}},
{"data": {"name": "arrows"}, "transform": [{"filter": "datum.k == 'up'"}], "mark": {"type": "point", "shape": "triangle-up", "angle": 33, "size": 55, "filled": true, "opacity": 1, "color": "#1f9a1f"},
 "encoding": {"x": {"field": "hx", "type": "quantitative"}, "y": {"field": "hy", "type": "quantitative"}}},
{"data": {"name": "arrows"}, "transform": [{"filter": "datum.k == 'down'"}], "mark": {"type": "point", "shape": "triangle-down", "angle": -10, "size": 55, "filled": true, "opacity": 1, "color": "#e8161b"},
 "encoding": {"x": {"field": "hx", "type": "quantitative"}, "y": {"field": "hy", "type": "quantitative"}}},
{"data": {"values": [{}]}, "mark": {"type": "text", "font": "DejaVu Sans", "fontSize": 5, "align": "left", "baseline": "middle", "color": "#333333", "text": "▼  GBPUSD,H1  1.18791 1.18791 1.18745 1.18750"},
 "encoding": {"x": {"datum": 0.8, "type": "quantitative"}, "y": {"datum": 1.2112, "type": "quantitative"}}},
{"data": {"values": [{}]}, "mark": {"type": "rect", "color": "#1f1f1f"},
 "encoding": {"x": {"datum": 5.7, "type": "quantitative"}, "x2": {"datum": 76.5}, "y": {"datum": 1.2312, "type": "quantitative"}, "y2": {"datum": 1.2217}}},
{"data": {"values": [{}]}, "mark": {"type": "text", "font": "Liberation Sans", "fontWeight": "bold", "fontStyle": "italic", "fontSize": 30, "align": "center", "baseline": "middle", "color": "#d9a441", "text": "S"},
 "encoding": {"x": {"datum": 13.4, "type": "quantitative"}, "y": {"datum": 1.2264, "type": "quantitative"}}},
{"data": {"values": [{}]}, "mark": {"type": "text", "font": "Lato", "fontWeight": "bold", "fontSize": 15, "align": "left", "baseline": "middle", "color": "#ffffff", "text": "Saracen"},
 "encoding": {"x": {"datum": 19.1, "type": "quantitative"}, "y": {"datum": 1.2265, "type": "quantitative"}}},
{"data": {"values": [{}]}, "mark": {"type": "text", "font": "Lato", "fontSize": 15, "align": "left", "baseline": "middle", "color": "#ffffff", "text": "Markets"},
 "encoding": {"x": {"datum": 43.8, "type": "quantitative"}, "y": {"datum": 1.2265, "type": "quantitative"}}},
{"data": {"values": [{}]}, "mark": {"type": "rect", "color": "#1c3660"},
 "encoding": {"x": {"datum": 180.7, "type": "quantitative"}, "x2": {"datum": 297.3}, "y": {"datum": 1.2312, "type": "quantitative"}, "y2": {"datum": 1.2210}}},
{"data": {"values": [{}]}, "mark": {"type": "rect", "fillOpacity": 0, "stroke": "#ffffff", "strokeWidth": 2.5},
 "encoding": {"x": {"datum": 242.3, "type": "quantitative"}, "x2": {"datum": 282.9}, "y": {"datum": 1.2300, "type": "quantitative"}, "y2": {"datum": 1.2220}}},
{"data": {"values": [{}]}, "mark": {"type": "text", "font": "Liberation Sans", "fontWeight": "bold", "fontSize": 39, "align": "left", "baseline": "middle", "color": "#ffffff", "text": "INTRA"},
 "encoding": {"x": {"datum": 183.5, "type": "quantitative"}, "y": {"datum": 1.2261, "type": "quantitative"}}},
{"data": {"values": [{}]}, "mark": {"type": "text", "font": "Liberation Sans", "fontWeight": "bold", "fontSize": 39, "align": "center", "baseline": "middle", "color": "#ffffff", "text": "DAY"},
 "encoding": {"x": {"datum": 262.6, "type": "quantitative"}, "y": {"datum": 1.2261, "type": "quantitative"}}},
{"data": {"values": [{}]}, "mark": {"type": "rule", "color": "#2cc3d6", "strokeWidth": 6},
 "encoding": {"x": {"datum": 286.3, "type": "quantitative"}, "x2": {"datum": 292.0}, "y": {"datum": 1.2259, "type": "quantitative"}, "y2": {"datum": 1.2286}}},
{"data": {"values": [{}]}, "mark": {"type": "point", "shape": "triangle-up", "angle": 45, "size": 140, "filled": true, "opacity": 1, "color": "#2cc3d6"},
 "encoding": {"x": {"datum": 293.4, "type": "quantitative"}, "y": {"datum": 1.2293, "type": "quantitative"}}},
{"data": {"values": [{}]}, "mark": {"type": "rule", "color": "#e530b8", "strokeWidth": 6},
 "encoding": {"x": {"datum": 293.9, "type": "quantitative"}, "x2": {"datum": 288.2}, "y": {"datum": 1.2259, "type": "quantitative"}, "y2": {"datum": 1.2231}}},
{"data": {"values": [{}]}, "mark": {"type": "point", "shape": "triangle-down", "angle": 45, "size": 140, "filled": true, "opacity": 1, "color": "#e530b8"},
 "encoding": {"x": {"datum": 286.8, "type": "quantitative"}, "y": {"datum": 1.2224, "type": "quantitative"}}}
]
}
